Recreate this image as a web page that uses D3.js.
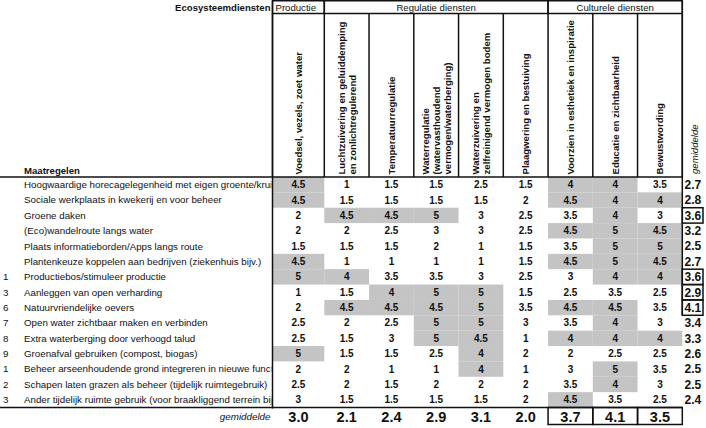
<!DOCTYPE html>
<html>
<head>
<meta charset="utf-8">
<script src="https://cdn.jsdelivr.net/npm/d3@7"></script>
<style>
  body { margin: 0; background: #fff; }
  svg { display: block; font-family: Arial, "Liberation Sans", sans-serif; }
</style>
</head>
<body>
<svg id="chart" width="706" height="428"></svg>
<script>
const groups = [
    { name: 'Productie', from: 0, to: 0, align: 'start' },
    { name: 'Regulatie diensten', from: 1, to: 5, align: 'middle' },
    { name: 'Culturele diensten', from: 6, to: 8, align: 'middle' }
];

const services = [
    ['Voedsel, vezels, zoet water'],
    ['Luchtzuivering en geluiddemping', 'en zonlichtregulerend'],
    ['Temperatuurregulatie'],
    ['Waterregulatie', '(watervasthoudend', 'vermogen/waterberging)'],
    ['Waterzuivering en', 'zelfreinigend vermogen bodem'],
    ['Plaagwering en bestuiving'],
    ['Voorzien in esthetiek en inspiratie'],
    ['Educatie en zichtbaarheid'],
    ['Bewustwording']
];

const rowNumbers = ['', '', '', '', '', '', '1', '3', '6', '7', '8', '9', '1', '2', '3'];

const measures = [
    'Hoogwaardige horecagelegenheid met eigen groente/kruiden',
    'Sociale werkplaats in kwekerij en voor beheer',
    'Groene daken',
    '(Eco)wandelroute langs water',
    'Plaats informatieborden/Apps langs route',
    'Plantenkeuze koppelen aan bedrijven (ziekenhuis bijv.)',
    'Productiebos/stimuleer productie',
    'Aanleggen van open verharding',
    'Natuurvriendelijke oevers',
    'Open water zichtbaar maken en verbinden',
    'Extra waterberging door verhoogd talud',
    'Groenafval gebruiken (compost, biogas)',
    'Beheer arseenhoudende grond integreren in nieuwe functies',
    'Schapen laten grazen als beheer (tijdelijk ruimtegebruik)',
    'Ander tijdelijk ruimte gebruik (voor braakliggend terrein bijv.)'
];

const scores = [
    [4.5, 1, 1.5, 1.5, 2.5, 1.5, 4, 4, 3.5],
    [4.5, 1.5, 1.5, 1.5, 1.5, 2, 4.5, 4, 4],
    [2, 4.5, 4.5, 5, 3, 2.5, 3.5, 4, 3],
    [2, 2, 2.5, 3, 3, 2.5, 4.5, 5, 4.5],
    [1.5, 1.5, 1.5, 2, 1, 1.5, 3.5, 5, 5],
    [4.5, 1, 1, 1, 1, 1.5, 4.5, 5, 4.5],
    [5, 4, 3.5, 3.5, 3, 2.5, 3, 4, 4],
    [1, 1.5, 4, 5, 5, 1.5, 2.5, 3.5, 2.5],
    [2, 4.5, 4.5, 4.5, 5, 3.5, 4.5, 4.5, 3.5],
    [2.5, 2, 2.5, 5, 5, 3, 3.5, 4, 3],
    [2.5, 1.5, 3, 5, 4.5, 1, 4, 4, 4],
    [5, 1.5, 1.5, 2.5, 4, 2, 2, 2.5, 2.5],
    [2, 2, 1, 1, 4, 1, 3, 5, 3.5],
    [2.5, 2, 1.5, 2, 2, 2, 3.5, 4, 3],
    [3, 1.5, 1.5, 1.5, 1.5, 2, 4.5, 3.5, 2.5]
];

const rowAverages = ['2.7', '2.8', '3.6', '3.2', '2.5', '2.7', '3.6', '2.9', '4.1', '3.4', '3.3', '2.6', '2.5', '2.5', '2.4'];
const boxedRowAverages = [2, 6, 7, 8];
const columnAverages = ['3.0', '2.1', '2.4', '2.9', '3.1', '2.0', '3.7', '4.1', '3.5'];
const boxedColumnAverages = [6, 7, 8];

const highlightFrom = 4;

let svg = d3.select('#chart'),
    headTop = 0.75,
    groupBottom = 13.5,
    headBottom = 177,
    tableBottom = 407.5,
    labelRight = 272.5,
    firstRight = 324.3,
    tableRight = 682.3,
    avgRight = 703
;

// column edges: the first column is a bit wider than the others
let xRest = d3.scaleLinear().domain([1, services.length]).range([firstRight, tableRight]);
let edge = i => i === 0 ? labelRight : xRest(i);
let colX = i => edge(i),
    colW = i => edge(i + 1) - edge(i),
    colC = i => (edge(i) + edge(i + 1)) / 2;

let y = d3.scaleBand().domain(d3.range(measures.length)).range([headBottom, tableBottom]);

let ink = '#111';

// grey highlighted cells
let cells = [];
scores.forEach((row, r) => row.forEach((v, c) => cells.push({ r, c, v })));

svg.append('g').selectAll('rect')
    .data(cells.filter(d => d.v >= highlightFrom))
    .enter().append('rect')
    .attr('x', d => colX(d.c))
    .attr('y', d => y(d.r))
    .attr('width', d => colW(d.c))
    .attr('height', y.bandwidth())
    .attr('fill', '#c4c4c4');

// cell values
svg.append('g').selectAll('text')
    .data(cells)
    .enter().append('text')
    .attr('x', d => colC(d.c))
    .attr('y', d => y(d.r) + y.bandwidth() / 2)
    .attr('dy', '0.35em')
    .attr('text-anchor', 'middle')
    .style('font', 'bold 10px Arial, sans-serif')
    .attr('fill', ink)
    .text(d => d.v);

// row labels, clipped at the first column
svg.append('clipPath').attr('id', 'labelClip')
    .append('rect').attr('x', 0).attr('y', 0).attr('width', labelRight - 1).attr('height', 428);

let labels = svg.append('g').attr('clip-path', 'url(#labelClip)');
labels.selectAll('text.measure')
    .data(measures)
    .enter().append('text')
    .attr('class', 'measure')
    .attr('x', 24)
    .attr('y', (d, i) => y(i) + y.bandwidth() / 2)
    .attr('dy', '0.35em')
    .style('font', '9.75px Arial, sans-serif')
    .attr('fill', ink)
    .text(d => d);

labels.selectAll('text.num')
    .data(rowNumbers)
    .enter().append('text')
    .attr('class', 'num')
    .attr('x', 8.5)
    .attr('y', (d, i) => y(i) + y.bandwidth() / 2)
    .attr('dy', '0.35em')
    .attr('text-anchor', 'end')
    .style('font', '9.75px Arial, sans-serif')
    .attr('fill', ink)
    .text(d => d);

svg.append('text')
    .attr('x', 24).attr('y', 173.5)
    .style('font', 'bold 9.6px Arial, sans-serif')
    .attr('fill', ink)
    .text('Maatregelen');

svg.append('text')
    .attr('x', 270.5).attr('y', groupBottom / 2 + 0.5)
    .attr('dy', '0.35em')
    .attr('text-anchor', 'end')
    .style('font', 'bold 9.6px Arial, sans-serif')
    .attr('fill', ink)
    .text('Ecosysteemdiensten');

// group header boxes
let gh = svg.append('g').selectAll('g').data(groups).enter().append('g');
gh.append('rect')
    .attr('x', d => edge(d.from))
    .attr('y', headTop)
    .attr('width', d => edge(d.to + 1) - edge(d.from))
    .attr('height', groupBottom - headTop)
    .attr('fill', 'none')
    .attr('stroke', ink)
    .attr('stroke-width', 1.5);
gh.append('text')
    .attr('x', d => d.align === 'start' ? edge(d.from) + 3 : (edge(d.from) + edge(d.to + 1)) / 2)
    .attr('y', groupBottom / 2 + 0.5)
    .attr('dy', '0.35em')
    .attr('text-anchor', d => d.align)
    .style('font', '9.6px Arial, sans-serif')
    .attr('fill', ink)
    .text(d => d.name);

// rotated column headers
let lineStep = 11;
let heads = svg.append('g').selectAll('g')
    .data(services)
    .enter().append('g');
heads.selectAll('text')
    .data((d, i) => d.map((t, k) => ({ t, k, n: d.length, c: i })))
    .enter().append('text')
    .attr('transform', d => {
        let cx = colC(d.c) + (d.k - (d.n - 1) / 2) * lineStep;
        return 'translate(' + cx + ',' + (headBottom - 2.5) + ') rotate(-90)';
    })
    .attr('dy', '0.35em')
    .style('font', 'bold 9.6px Arial, sans-serif')
    .attr('fill', ink)
    .text(d => d.t);

svg.append('text')
    .attr('transform', 'translate(' + 695 + ',' + (headBottom - 3) + ') rotate(-90)')
    .attr('dy', '0.35em')
    .style('font', 'italic 9.6px Arial, sans-serif')
    .attr('fill', ink)
    .text('gemiddelde');

// grid lines
let lines = svg.append('g').attr('stroke', ink).attr('stroke-width', 1.5);
d3.range(services.length + 1).forEach(i => {
    lines.append('line')
        .attr('x1', edge(i)).attr('x2', edge(i))
        .attr('y1', groupBottom).attr('y2', headBottom);
});
lines.append('line')
    .attr('x1', labelRight).attr('x2', labelRight)
    .attr('y1', headTop).attr('y2', tableBottom + 1);
lines.append('line')
    .attr('x1', 0).attr('x2', tableRight)
    .attr('y1', headBottom).attr('y2', headBottom);
lines.append('line')
    .attr('x1', 0).attr('x2', tableRight)
    .attr('y1', tableBottom).attr('y2', tableBottom);
lines.append('line')
    .attr('x1', tableRight).attr('x2', tableRight)
    .attr('y1', headTop).attr('y2', y(d3.max(boxedRowAverages)) + y.bandwidth());

// row averages
svg.append('g').selectAll('rect')
    .data(boxedRowAverages)
    .enter().append('rect')
    .attr('x', tableRight)
    .attr('y', d => y(d))
    .attr('width', avgRight - tableRight)
    .attr('height', y.bandwidth())
    .attr('fill', 'none')
    .attr('stroke', ink)
    .attr('stroke-width', 1.5);

svg.append('g').selectAll('text')
    .data(rowAverages)
    .enter().append('text')
    .attr('x', 684.5)
    .attr('y', (d, i) => y(i) + y.bandwidth() / 2)
    .attr('dy', '0.36em')
    .style('font', 'bold 12px Arial, sans-serif')
    .attr('fill', ink)
    .text(d => d);

// column averages
let avgY = tableBottom + 9;
svg.append('g').selectAll('rect')
    .data(boxedColumnAverages)
    .enter().append('rect')
    .attr('x', d => colX(d))
    .attr('y', tableBottom)
    .attr('width', d => colW(d))
    .attr('height', 17)
    .attr('fill', 'none')
    .attr('stroke', ink)
    .attr('stroke-width', 1.5);

svg.append('g').selectAll('text')
    .data(columnAverages)
    .enter().append('text')
    .attr('x', (d, i) => colC(i))
    .attr('y', avgY)
    .attr('dy', '0.36em')
    .attr('text-anchor', 'middle')
    .style('font', 'bold 14.5px Arial, sans-serif')
    .attr('fill', ink)
    .text(d => d);

svg.append('text')
    .attr('x', 270.5).attr('y', avgY)
    .attr('dy', '0.35em')
    .attr('text-anchor', 'end')
    .style('font', 'italic 9.8px Arial, sans-serif')
    .attr('fill', ink)
    .text('gemiddelde');
</script>
</body>
</html>
